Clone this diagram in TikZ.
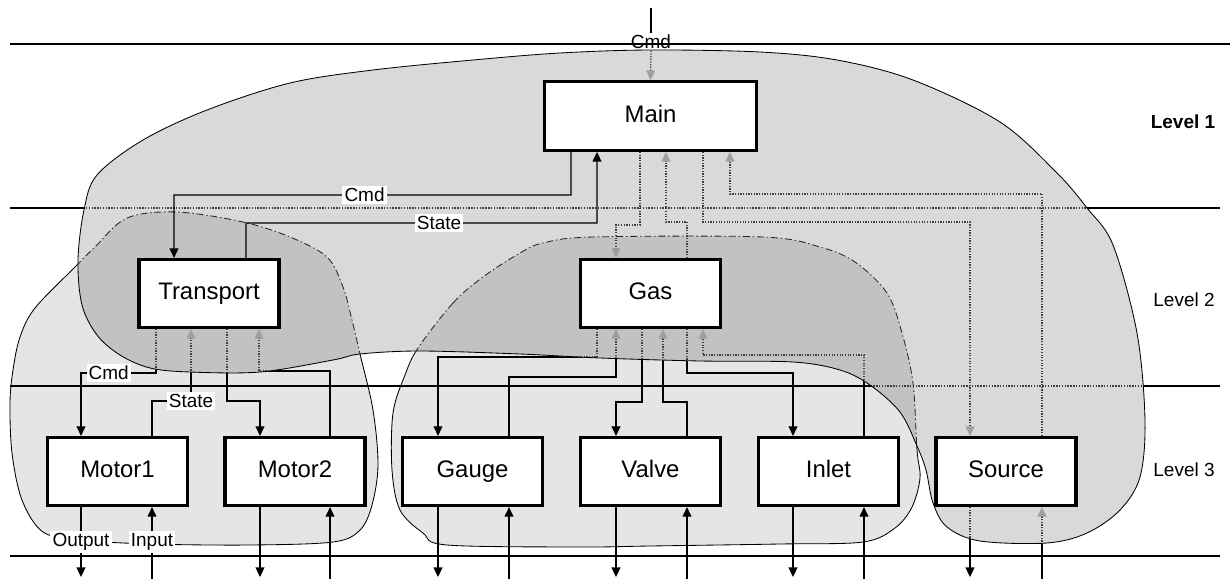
\documentclass[tikz,border=0pt]{standalone}
\usepackage{fontspec}
\setmainfont{Liberation Sans}
\usetikzlibrary{calc,arrows.meta}
\pgfdeclarelayer{regions}
\pgfdeclarelayer{conn}
\pgfdeclarelayer{over}
\pgfsetlayers{regions,conn,over,main}

\def\pathA{plot[smooth cycle, tension=0.55] coordinates {(143,140) (207,110) (290,83) (373,70) (473,60) (560,53) (650,50) (760,52) (837,60) (913,80) (1000,122) (1057,173) (1087,208) (1113,245) (1137,333) (1145,420) (1140,477) (1120,510) (1087,533) (1047,543) (980,541) (947,527) (933,503) (926,470) (917,446) (900,412) (870,385) (840,370) (793,362) (700,361) (600,358) (520,354) (420,351) (360,354) (333,360) (260,372) (190,372) (150,368) (120,355) (97,335) (82,305) (78,260) (84,210) (97,175)}}
\def\pathB{plot[smooth cycle, tension=0.55] coordinates {(95,247) (127,218) (177,212) (243,222) (290,237) (327,257) (343,287) (352,320) (360,354) (373,410) (378,465) (372,505) (360,530) (333,542) (250,545) (150,544) (80,540) (43,532) (22,500) (12,453) (10,403) (13,370) (20,337) (35,308) (75,267)}}
\def\pathC{plot[smooth cycle, tension=0.55] coordinates {(418,348) (453,303) (483,277) (520,253) (543,243) (593,237) (763,237) (820,247) (855,262) (887,293) (902,333) (913,383) (917,450) (920,478) (912,507) (895,528) (863,542) (780,544) (650,546) (580,547) (447,545) (423,533) (400,510) (392,470) (393,413) (405,375)}}

\newcommand\levellines[1]{%
  \foreach \yy in {208,386,556} {\draw[#1] (10,\yy) -- (1220,\yy);}
  \draw[#1] (10,44) -- (1230,44);
}

\newcommand\allconn{%
  \draw[cla] (CmdTop.south) -- (Main.north);
  \draw[cla] ($(Main.south)+(-10.5,0)$) -- ++(0,73) -| ($(Gas.north)+(-34.5,0)$);
  \draw[cla] ($(Gas.north)+(36.5,0)$) -- ++(0,-36) -| ($(Main.south)+(15.5,0)$);
  \draw[cla] ($(Main.south)+(52.5,0)$) -- ++(0,70) -| ($(Source.north)+(-36,0)$);
  \draw[cla] ($(Source.north)+(36,0)$) -- ++(0,-242) -| ($(Main.south)+(79.5,0)$);
  \draw[cla] ($(Transport.south)+(-53,0)$) -- ++(0,44) -- coordinate[pos=0.63] (cmdlbl) ++(-75,0) -- ($(Motor1.north)+(-36.5,0)$);
  \draw[cla] ($(Motor1.north)+(34.5,0)$) |- ($(Transport.south)+(-18,72)$) coordinate (stlbl) -- ($(Transport.south)+(-18,0)$);
  \draw[cla] ($(Transport.south)+(18,0)$) -- ++(0,72) -| ($(Motor2.north)+(-35,0)$);
  \draw[cla] ($(Motor2.north)+(35,0)$) -- ++(0,-65) -| ($(Transport.south)+(50,0)$);
  \draw[cla] ($(Gas.south)+(-53.5,0)$) -- ++(0,28) -| ($(Gauge.north)+(-34.5,0)$);
  \draw[cla] ($(Gauge.north)+(36.5,0)$) -- ++(0,-59) -| ($(Gas.south)+(-34.5,0)$);
  \draw[cla] ($(Gas.south)+(-8.5,0)$) -- ++(0,73) -| ($(Valve.north)+(-34.5,0)$);
  \draw[cla] ($(Valve.north)+(36.5,0)$) -- ++(0,-34) -| ($(Gas.south)+(12.5,0)$);
  \draw[cla] ($(Gas.south)+(36.5,0)$) -- ++(0,44) -| ($(Inlet.north)+(-35.5,0)$);
  \draw[cla] ($(Inlet.north)+(35.5,0)$) -- ++(0,-81) -| ($(Gas.south)+(52.5,0)$);
  \foreach \b/\o/\i in {Motor1/-36.5/34.5, Motor2/-35/35, Gauge/-34.5/36.5, Valve/-34.5/36.5, Inlet/-35.5/35.5, Source/-36/36}{
    \draw[cla] ($(\b.south)+(\o,0)$) -- ++(0,70);
    \draw[cla] ($(\b.south)+(\i,72)$) -- ($(\b.south)+(\i,0)$);
  }
}

\tikzset{
  box/.style={draw, line width=2.2pt, fill=white, minimum width=3.5cm, minimum height=1.7cm, inner sep=0pt, text height=12.5pt, text depth=3.6pt, font=\fontsize{17}{20}\selectfont},
  lbl/.style={fill=white, inner sep=1.5pt, font=\fontsize{13.5}{16}\selectfont},
  lvl/.style={inner sep=0pt, font=\fontsize{13.5}{16}\selectfont},
  cl/.style={line width=0.9pt},
  cla/.style={line width=0.9pt, -{Triangle[length=0.24cm,width=0.22cm]}},
  regionline/.style={line width=0.6pt},
}

\begin{document}
\begin{tikzpicture}[x=0.025cm, y=-0.025cm]
\useasboundingbox (0,0) rectangle (1232,579);

% boxes
\node[box, minimum width=5.3cm, minimum height=1.72cm] (Main) at (650.5,116) {Main};
\node[box] (Transport) at (209,293.5) {Transport};
\node[box] (Gas) at (650.5,293.5) {Gas};
\node[box] (Motor1) at (117.5,471.5) {Motor1};
\node[box] (Motor2) at (295,471.5) {Motor2};
\node[box] (Gauge) at (472.5,471.5) {Gauge};
\node[box] (Valve) at (650.5,471.5) {Valve};
\node[box] (Inlet) at (828.5,471.5) {Inlet};
\node[box] (Source) at (1006,471.5) {Source};

% level labels
\node[lvl, font=\fontsize{13.5}{16}\selectfont\bfseries] (L1) at (1183,122) {Level 1};
\node[lvl] (L2) at (1184,300) {Level 2};
\node[lvl] (L3) at (1184,470) {Level 3};

% top command input
\coordinate (TopIn) at (651,8);
\node[inner sep=1pt, font=\fontsize{13.5}{16}\selectfont] (CmdTop) at (651,42) {Cmd};
\draw[cl] (TopIn) -- (CmdTop.north);

\begin{pgfonlayer}{regions}
  \fill[white] (0,0) rectangle (1232,579);
  \fill[gray!20] \pathB;
  \fill[gray!20] \pathC;
  \draw[regionline] \pathB;
  \draw[regionline] \pathC;
  \levellines{line width=1pt}
\end{pgfonlayer}

\begin{pgfonlayer}{conn}
  \allconn
\end{pgfonlayer}

\begin{pgfonlayer}{over}
  \begin{scope}[cl/.style={line width=0.9pt, densely dotted, black!75},
                cla/.style={line width=0.9pt, densely dotted, black!75, -{Triangle[length=0.24cm,width=0.22cm,color=gray!75]}}]
    \clip \pathA;
    \fill[white] \pathA;
    \fill[gray!20] \pathB;
    \fill[gray!20] \pathC;
    \fill[black, opacity=0.15] \pathA;
    \levellines{line width=1pt, densely dotted, black!75}
    \draw[regionline, black!85, dash pattern=on 5pt off 2pt on 1pt off 2pt] \pathB;
    \draw[regionline, black!85, dash pattern=on 5pt off 2pt on 1pt off 2pt] \pathC;
    \allconn
  \end{scope}
  \draw[regionline] \pathA;
\end{pgfonlayer}

% solid connectors Main <-> Transport
\draw[cla] ($(Main.south)+(-79.5,0)$) -- ++(0,43) -- node[lbl, pos=0.52] (lCmdT) {Cmd} ($(Transport.north)+(-35,-63)$) -- ($(Transport.north)+(-35,0)$);
\draw[cla] ($(Transport.north)+(37,0)$) -- ++(0,-35) -- node[lbl, pos=0.55] (lStateT) {State} ($(Main.south)+(-53.5,71)$) -- ($(Main.south)+(-53.5,0)$);

% labels on lower connectors
\node[lbl] (lCmdM) at (cmdlbl) {Cmd};
\node[lbl] (lStateM) at (stlbl) {State};
\node[lbl] (lOut) at ($(Motor1.south)+(-36.5,35)$) {Output};
\node[lbl] (lIn) at ($(Motor1.south)+(34.5,35)$) {Input};
\end{tikzpicture}
\end{document}
